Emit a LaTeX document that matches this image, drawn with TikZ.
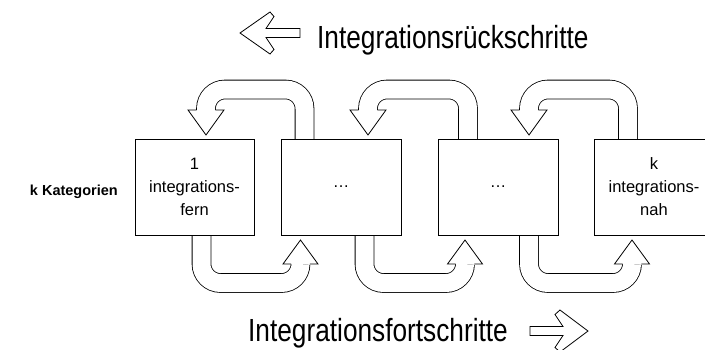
\documentclass[tikz,border=0pt]{standalone}
\usepackage{fontspec}
\setmainfont{Liberation Sans}
\newfontfamily\schmal{Liberation Sans}[FakeStretch=0.82]
\usetikzlibrary{positioning}

\tikzset{
  kat/.style={draw, line width=0.8pt, minimum height=96pt, inner sep=0pt,
    align=center, font=\fontsize{16.5}{23}\selectfont},
  bahn/.style={double=white, double distance=18pt, line width=0.8pt,
    rounded corners=19pt},
  spitze/.style={fill=white, line width=0.8pt, line join=miter},
  titel/.style={inner sep=0pt, font=\schmal\fontsize{32}{32}\selectfont},
}

\begin{document}
\begin{tikzpicture}[x=1pt, y=-1pt]
    \useasboundingbox (0,0) rectangle (705,349);

    % Rueckschritte (oben)
    \draw[bahn] (304.5,139) -- (304.5,89.5) -- (206,89.5) -- (206,110);
    \filldraw[spitze] (196.6,110) -- (188,110) -- (206,135) -- (224,110) -- (215.4,110);
    \draw[bahn] (468,139) -- (468,89.5) -- (368,89.5) -- (368,110);
    \filldraw[spitze] (358.6,110) -- (350,110) -- (368,135) -- (386,110) -- (377.4,110);
    \draw[bahn] (628,139) -- (628,89.5) -- (529,89.5) -- (529,110);
    \filldraw[spitze] (519.6,110) -- (511,110) -- (529,135) -- (547,110) -- (538.4,110);

    % Fortschritte (unten)
    \draw[bahn] (201.5,235) -- (201.5,283) -- (300.5,283) -- (300.5,264);
    \filldraw[spitze] (291.1,264) -- (283,264) -- (300.5,240) -- (318,264) -- (309.9,264);
    \draw[bahn] (364.5,235) -- (364.5,283) -- (465,283) -- (465,264);
    \filldraw[spitze] (455.6,264) -- (447.5,264) -- (465,240) -- (482.5,264) -- (474.4,264);
    \draw[bahn] (529,235) -- (529,283) -- (632,283) -- (632,264);
    \filldraw[spitze] (622.6,264) -- (614.5,264) -- (632,240) -- (649.5,264) -- (641.4,264);

    % Kategorien
    \node[kat, minimum width=119pt] (k1) at (194.5,187) {1\\integrations-\\fern};
    \node[kat, minimum width=120pt] (k2) at (341,187) {\dots};
    \node[kat, minimum width=120pt] (k3) at (498,187) {\dots};
    \node[kat, minimum width=120pt] (k4) at (654,187) {k\\integrations-\\nah};

    \node[anchor=base east, inner sep=0pt, font=\bfseries\fontsize{14.5}{16}\selectfont]
      (anzahl) at (118,195) {k Kategorien};

    % Titel mit Blockpfeilen
    \filldraw[spitze] (240,33) -- (270,12) -- (274,16.5) -- (266,28.5) -- (300,28.5)
      -- (300,37.5) -- (266,37.5) -- (274,49.5) -- (270,54) -- cycle;
    \node[titel, anchor=base west] (rueck) at (317,48) {Integrationsrückschritte};

    \filldraw[spitze] (588,331) -- (560,310) -- (555,314.5) -- (563,326.5) -- (530,326.5)
      -- (530,335.5) -- (563,335.5) -- (555,347.5) -- (560,352) -- cycle;
    \node[titel, anchor=base east] (fort) at (508,341) {Integrationsfortschritte};
\end{tikzpicture}
\end{document}
